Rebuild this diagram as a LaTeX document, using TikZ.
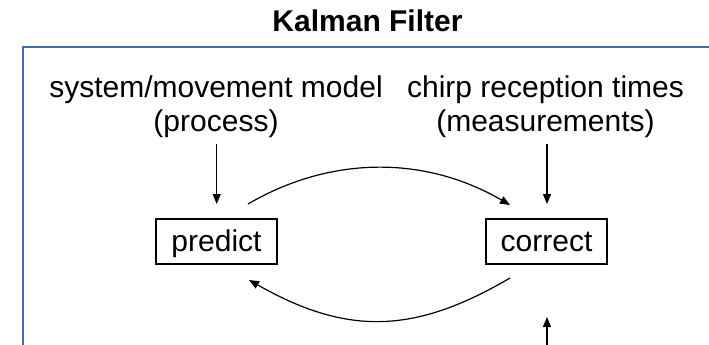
\documentclass[tikz,border=0pt]{standalone}
\usepackage{fontspec}
\setmainfont{Liberation Sans}
\usetikzlibrary{arrows.meta}
\definecolor{framec}{RGB}{59,109,176}
\tikzset{
  conn/.style={line width=1.2pt,-{Triangle[length=10pt,width=8pt]}},
  procbox/.style={draw,line width=1.2pt,minimum width=121pt,minimum height=45pt,inner sep=0pt,text height=22pt,text depth=2pt},
  lbl/.style={align=center,inner sep=0pt,anchor=north},
}
\begin{document}
\begin{tikzpicture}[x=1pt,y=-1pt,font=\fontsize{30pt}{34pt}\selectfont]
\useasboundingbox (0,0) rectangle (709,345);
\clip (0,0) rectangle (709,345);
\fill[white] (0,0) rectangle (709,345);
\draw[framec,line width=2.2pt] (22.7,360) -- (22.7,47) -- (730,47);
\node[anchor=base,font=\fontsize{30pt}{34pt}\selectfont\bfseries] (title) at (367.5,32) {Kalman Filter};
\node[lbl] (sys) at (216,76) {system/movement model\\(process)};
\node[lbl] (meas) at (545.5,76) {chirp reception times\\(measurements)};
\node[procbox] (predict) at (216.5,241.5) {predict};
\node[procbox] (correct) at (546.5,241.5) {correct};
\coordinate (pin) at (216.7,144);
\coordinate (pout) at (216.7,204);
\coordinate (cin) at (547,144);
\coordinate (cout) at (547,204);
\coordinate (a1) at (248,204);
\coordinate (a2) at (510,205);
\coordinate (b1) at (510,278);
\coordinate (b2) at (249,280);
\coordinate (up1) at (547,360);
\coordinate (up2) at (547,317);
\draw[conn] (pin) -- (pout);
\draw[conn] (cin) -- (cout);
\draw[conn] (a1) .. controls (332,155) and (426,156) .. (a2);
\draw[conn] (b1) .. controls (413,335) and (346,335) .. (b2);
\draw[conn] (up1) -- (up2);
\end{tikzpicture}
\end{document}
